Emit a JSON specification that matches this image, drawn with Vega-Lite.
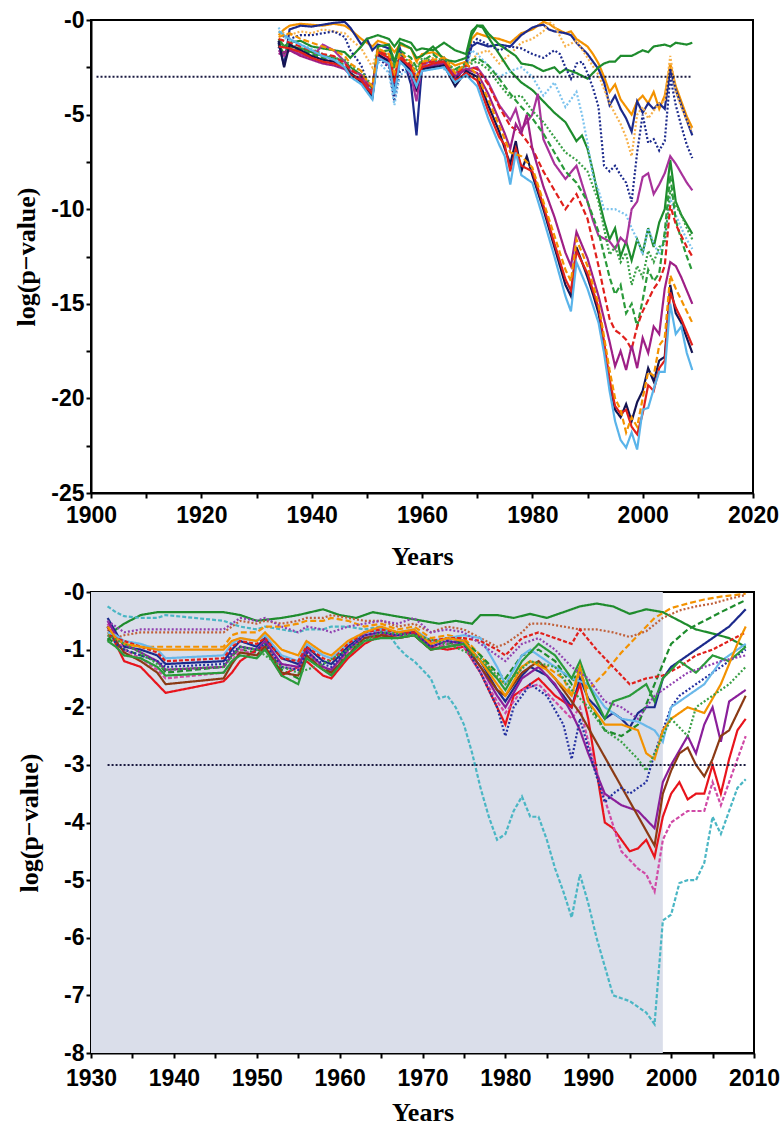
{
"$schema":"https://vega.github.io/schema/vega-lite/v6.json",
"padding":{"left":12,"top":8,"right":20,"bottom":0},
"background":"white",
"config":{
"view":{"stroke":"#000","strokeWidth":2},
"axis":{"grid":false,"domainColor":"#000","domainWidth":2,"tickColor":"#000","tickWidth":2,"tickSize":5,"labelFont":"Liberation Sans","labelFontWeight":"bold","labelFontSize":23,"labelColor":"#000","titleFont":"Liberation Serif","titleFontWeight":"bold","titleFontSize":26,"titleColor":"#000","labelOverlap":false,"labelFlush":false,"labelPadding":2,"format":"d"},
"axisX":{"labelPadding":6}
},
"spacing":10,
"resolve":{"scale":{"x":"independent","y":"independent","color":"independent","strokeDash":"independent"}},
"datasets":{
"top":[
{"s":"T1","x":1934,"y":-0.8},{"s":"T1","x":1935,"y":-0.5},{"s":"T1","x":1936,"y":-0.3},{"s":"T1","x":1938,"y":-0.2},{"s":"T1","x":1940,"y":-0.25},{"s":"T1","x":1942,"y":-0.3},{"s":"T1","x":1944,"y":-0.2},{"s":"T1","x":1946,"y":-0.3},{"s":"T1","x":1947,"y":-0.5},{"s":"T1","x":1949,"y":-1.0},{"s":"T1","x":1950,"y":-1.2},{"s":"T1","x":1951,"y":-1.4},{"s":"T1","x":1952,"y":-1.1},{"s":"T1","x":1954,"y":-1.3},{"s":"T1","x":1955,"y":-1.7},{"s":"T1","x":1956,"y":-1.3},{"s":"T1","x":1958,"y":-1.5},{"s":"T1","x":1959,"y":-2.2},{"s":"T1","x":1960,"y":-1.8},{"s":"T1","x":1962,"y":-1.7},{"s":"T1","x":1964,"y":-2.0},{"s":"T1","x":1966,"y":-2.4},{"s":"T1","x":1968,"y":-2.2},{"s":"T1","x":1969,"y":-1.0},{"s":"T1","x":1970,"y":-0.7},{"s":"T1","x":1972,"y":-0.9},{"s":"T1","x":1974,"y":-1.0},{"s":"T1","x":1976,"y":-1.2},{"s":"T1","x":1978,"y":-0.7},{"s":"T1","x":1980,"y":-0.5},{"s":"T1","x":1981,"y":-0.3},{"s":"T1","x":1982,"y":-0.1},{"s":"T1","x":1983,"y":-0.2},{"s":"T1","x":1984,"y":-0.4},{"s":"T1","x":1986,"y":-0.7},{"s":"T1","x":1987,"y":-0.6},{"s":"T1","x":1988,"y":-1.0},{"s":"T1","x":1990,"y":-1.4},{"s":"T1","x":1991,"y":-1.8},{"s":"T1","x":1992,"y":-2.3},{"s":"T1","x":1993,"y":-3.0},{"s":"T1","x":1994,"y":-3.8},{"s":"T1","x":1995,"y":-3.4},{"s":"T1","x":1996,"y":-4.2},{"s":"T1","x":1997,"y":-4.6},{"s":"T1","x":1998,"y":-5.0},{"s":"T1","x":1999,"y":-4.3},{"s":"T1","x":2000,"y":-4.0},{"s":"T1","x":2001,"y":-4.4},{"s":"T1","x":2002,"y":-3.8},{"s":"T1","x":2003,"y":-4.7},{"s":"T1","x":2004,"y":-4.0},{"s":"T1","x":2005,"y":-2.3},{"s":"T1","x":2006,"y":-3.5},{"s":"T1","x":2007,"y":-4.3},{"s":"T1","x":2008,"y":-5.1},{"s":"T1","x":2009,"y":-5.7},
{"s":"T2","x":1934,"y":-1.2},{"s":"T2","x":1935,"y":-2.4},{"s":"T2","x":1936,"y":-0.5},{"s":"T2","x":1938,"y":-0.3},{"s":"T2","x":1940,"y":-0.35},{"s":"T2","x":1942,"y":-0.25},{"s":"T2","x":1944,"y":-0.15},{"s":"T2","x":1946,"y":-0.1},{"s":"T2","x":1947,"y":-0.4},{"s":"T2","x":1949,"y":-1.3},{"s":"T2","x":1950,"y":-1.0},{"s":"T2","x":1951,"y":-1.6},{"s":"T2","x":1952,"y":-1.3},{"s":"T2","x":1954,"y":-1.5},{"s":"T2","x":1955,"y":-2.3},{"s":"T2","x":1956,"y":-1.5},{"s":"T2","x":1958,"y":-3.4},{"s":"T2","x":1959,"y":-6.1},{"s":"T2","x":1960,"y":-2.5},{"s":"T2","x":1962,"y":-2.4},{"s":"T2","x":1964,"y":-2.0},{"s":"T2","x":1966,"y":-3.2},{"s":"T2","x":1968,"y":-2.4},{"s":"T2","x":1969,"y":-1.4},{"s":"T2","x":1970,"y":-1.2},{"s":"T2","x":1972,"y":-1.4},{"s":"T2","x":1974,"y":-1.3},{"s":"T2","x":1976,"y":-1.4},{"s":"T2","x":1978,"y":-0.8},{"s":"T2","x":1980,"y":-0.4},{"s":"T2","x":1981,"y":-0.3},{"s":"T2","x":1982,"y":-0.25},{"s":"T2","x":1983,"y":-0.5},{"s":"T2","x":1984,"y":-0.6},{"s":"T2","x":1986,"y":-0.7},{"s":"T2","x":1987,"y":-0.8},{"s":"T2","x":1988,"y":-1.2},{"s":"T2","x":1990,"y":-1.8},{"s":"T2","x":1991,"y":-2.2},{"s":"T2","x":1992,"y":-2.6},{"s":"T2","x":1993,"y":-3.3},{"s":"T2","x":1994,"y":-4.5},{"s":"T2","x":1995,"y":-4.0},{"s":"T2","x":1996,"y":-4.7},{"s":"T2","x":1997,"y":-5.2},{"s":"T2","x":1998,"y":-5.9},{"s":"T2","x":1999,"y":-4.3},{"s":"T2","x":2000,"y":-4.9},{"s":"T2","x":2001,"y":-4.4},{"s":"T2","x":2002,"y":-4.7},{"s":"T2","x":2003,"y":-4.4},{"s":"T2","x":2004,"y":-4.7},{"s":"T2","x":2005,"y":-2.6},{"s":"T2","x":2006,"y":-3.7},{"s":"T2","x":2007,"y":-4.5},{"s":"T2","x":2008,"y":-5.3},{"s":"T2","x":2009,"y":-6.1},
{"s":"T3","x":1934,"y":-0.6},{"s":"T3","x":1936,"y":-0.8},{"s":"T3","x":1938,"y":-0.6},{"s":"T3","x":1940,"y":-0.7},{"s":"T3","x":1942,"y":-0.5},{"s":"T3","x":1944,"y":-0.6},{"s":"T3","x":1946,"y":-0.7},{"s":"T3","x":1947,"y":-1.0},{"s":"T3","x":1949,"y":-1.5},{"s":"T3","x":1950,"y":-2.0},{"s":"T3","x":1951,"y":-2.5},{"s":"T3","x":1952,"y":-1.5},{"s":"T3","x":1954,"y":-1.8},{"s":"T3","x":1956,"y":-2.0},{"s":"T3","x":1958,"y":-2.4},{"s":"T3","x":1960,"y":-2.2},{"s":"T3","x":1962,"y":-2.0},{"s":"T3","x":1964,"y":-2.3},{"s":"T3","x":1966,"y":-2.7},{"s":"T3","x":1968,"y":-2.5},{"s":"T3","x":1970,"y":-1.8},{"s":"T3","x":1972,"y":-1.6},{"s":"T3","x":1974,"y":-2.3},{"s":"T3","x":1976,"y":-1.8},{"s":"T3","x":1978,"y":-1.2},{"s":"T3","x":1980,"y":-1.0},{"s":"T3","x":1982,"y":-0.6},{"s":"T3","x":1983,"y":-0.1},{"s":"T3","x":1984,"y":-0.3},{"s":"T3","x":1986,"y":-1.4},{"s":"T3","x":1988,"y":-1.1},{"s":"T3","x":1990,"y":-2.0},{"s":"T3","x":1992,"y":-2.9},{"s":"T3","x":1994,"y":-4.4},{"s":"T3","x":1996,"y":-5.5},{"s":"T3","x":1997,"y":-6.2},{"s":"T3","x":1998,"y":-7.2},{"s":"T3","x":1999,"y":-5.0},{"s":"T3","x":2000,"y":-4.6},{"s":"T3","x":2001,"y":-5.2},{"s":"T3","x":2002,"y":-4.8},{"s":"T3","x":2003,"y":-4.4},{"s":"T3","x":2004,"y":-4.3},{"s":"T3","x":2005,"y":-1.9},{"s":"T3","x":2006,"y":-3.8},{"s":"T3","x":2007,"y":-4.6},{"s":"T3","x":2008,"y":-5.3},{"s":"T3","x":2009,"y":-5.9},
{"s":"T4","x":1934,"y":-1.0},{"s":"T4","x":1935,"y":-1.4},{"s":"T4","x":1936,"y":-1.2},{"s":"T4","x":1938,"y":-1.1},{"s":"T4","x":1940,"y":-1.4},{"s":"T4","x":1942,"y":-1.5},{"s":"T4","x":1944,"y":-1.6},{"s":"T4","x":1946,"y":-1.7},{"s":"T4","x":1947,"y":-2.0},{"s":"T4","x":1949,"y":-1.4},{"s":"T4","x":1950,"y":-1.0},{"s":"T4","x":1951,"y":-0.9},{"s":"T4","x":1952,"y":-0.8},{"s":"T4","x":1954,"y":-1.0},{"s":"T4","x":1955,"y":-1.4},{"s":"T4","x":1956,"y":-1.0},{"s":"T4","x":1958,"y":-1.2},{"s":"T4","x":1959,"y":-1.6},{"s":"T4","x":1960,"y":-1.5},{"s":"T4","x":1962,"y":-1.6},{"s":"T4","x":1964,"y":-1.2},{"s":"T4","x":1966,"y":-1.6},{"s":"T4","x":1968,"y":-1.8},{"s":"T4","x":1969,"y":-0.6},{"s":"T4","x":1970,"y":-0.3},{"s":"T4","x":1971,"y":-0.3},{"s":"T4","x":1972,"y":-0.7},{"s":"T4","x":1973,"y":-1.0},{"s":"T4","x":1974,"y":-1.3},{"s":"T4","x":1976,"y":-1.7},{"s":"T4","x":1977,"y":-1.9},{"s":"T4","x":1978,"y":-2.3},{"s":"T4","x":1980,"y":-2.4},{"s":"T4","x":1982,"y":-2.7},{"s":"T4","x":1984,"y":-2.5},{"s":"T4","x":1985,"y":-2.8},{"s":"T4","x":1986,"y":-2.6},{"s":"T4","x":1988,"y":-2.8},{"s":"T4","x":1990,"y":-3.1},{"s":"T4","x":1991,"y":-2.8},{"s":"T4","x":1992,"y":-2.5},{"s":"T4","x":1993,"y":-2.3},{"s":"T4","x":1994,"y":-2.2},{"s":"T4","x":1995,"y":-2.2},{"s":"T4","x":1996,"y":-1.9},{"s":"T4","x":1998,"y":-1.9},{"s":"T4","x":2000,"y":-1.6},{"s":"T4","x":2001,"y":-1.7},{"s":"T4","x":2002,"y":-1.4},{"s":"T4","x":2004,"y":-1.3},{"s":"T4","x":2005,"y":-1.4},{"s":"T4","x":2006,"y":-1.2},{"s":"T4","x":2008,"y":-1.3},{"s":"T4","x":2009,"y":-1.2},
{"s":"T5","x":1934,"y":-1.3},{"s":"T5","x":1935,"y":-1.8},{"s":"T5","x":1936,"y":-1.4},{"s":"T5","x":1938,"y":-1.5},{"s":"T5","x":1940,"y":-1.7},{"s":"T5","x":1942,"y":-1.9},{"s":"T5","x":1944,"y":-2.0},{"s":"T5","x":1946,"y":-2.2},{"s":"T5","x":1947,"y":-2.5},{"s":"T5","x":1949,"y":-2.9},{"s":"T5","x":1950,"y":-3.3},{"s":"T5","x":1951,"y":-3.6},{"s":"T5","x":1952,"y":-1.4},{"s":"T5","x":1954,"y":-1.3},{"s":"T5","x":1955,"y":-2.2},{"s":"T5","x":1956,"y":-1.2},{"s":"T5","x":1958,"y":-1.5},{"s":"T5","x":1959,"y":-2.0},{"s":"T5","x":1960,"y":-1.9},{"s":"T5","x":1962,"y":-1.4},{"s":"T5","x":1964,"y":-2.1},{"s":"T5","x":1966,"y":-2.2},{"s":"T5","x":1968,"y":-2.0},{"s":"T5","x":1969,"y":-0.8},{"s":"T5","x":1970,"y":-0.3},{"s":"T5","x":1971,"y":-0.4},{"s":"T5","x":1972,"y":-0.9},{"s":"T5","x":1974,"y":-1.8},{"s":"T5","x":1976,"y":-2.7},{"s":"T5","x":1978,"y":-3.3},{"s":"T5","x":1980,"y":-3.7},{"s":"T5","x":1982,"y":-4.3},{"s":"T5","x":1984,"y":-4.9},{"s":"T5","x":1986,"y":-5.4},{"s":"T5","x":1988,"y":-6.4},{"s":"T5","x":1989,"y":-6.1},{"s":"T5","x":1990,"y":-6.8},{"s":"T5","x":1991,"y":-8.0},{"s":"T5","x":1992,"y":-9.4},{"s":"T5","x":1993,"y":-10.6},{"s":"T5","x":1994,"y":-11.6},{"s":"T5","x":1995,"y":-11.0},{"s":"T5","x":1996,"y":-12.5},{"s":"T5","x":1997,"y":-11.7},{"s":"T5","x":1998,"y":-12.7},{"s":"T5","x":1999,"y":-11.6},{"s":"T5","x":2000,"y":-12.3},{"s":"T5","x":2001,"y":-11.0},{"s":"T5","x":2002,"y":-12.0},{"s":"T5","x":2003,"y":-10.7},{"s":"T5","x":2004,"y":-10.0},{"s":"T5","x":2005,"y":-7.4},{"s":"T5","x":2006,"y":-9.6},{"s":"T5","x":2007,"y":-10.3},{"s":"T5","x":2008,"y":-10.8},{"s":"T5","x":2009,"y":-11.3},
{"s":"T6","x":1934,"y":-1.5},{"s":"T6","x":1935,"y":-0.8},{"s":"T6","x":1936,"y":-1.0},{"s":"T6","x":1938,"y":-0.8},{"s":"T6","x":1940,"y":-0.8},{"s":"T6","x":1942,"y":-0.7},{"s":"T6","x":1944,"y":-0.6},{"s":"T6","x":1946,"y":-0.9},{"s":"T6","x":1947,"y":-1.6},{"s":"T6","x":1949,"y":-2.4},{"s":"T6","x":1950,"y":-3.2},{"s":"T6","x":1951,"y":-4.0},{"s":"T6","x":1952,"y":-2.0},{"s":"T6","x":1954,"y":-2.5},{"s":"T6","x":1955,"y":-4.3},{"s":"T6","x":1956,"y":-2.7},{"s":"T6","x":1958,"y":-2.5},{"s":"T6","x":1959,"y":-3.0},{"s":"T6","x":1960,"y":-2.2},{"s":"T6","x":1962,"y":-2.5},{"s":"T6","x":1964,"y":-2.3},{"s":"T6","x":1966,"y":-3.1},{"s":"T6","x":1968,"y":-2.2},{"s":"T6","x":1969,"y":-1.3},{"s":"T6","x":1970,"y":-1.0},{"s":"T6","x":1972,"y":-1.3},{"s":"T6","x":1974,"y":-1.6},{"s":"T6","x":1976,"y":-1.4},{"s":"T6","x":1978,"y":-1.5},{"s":"T6","x":1980,"y":-1.8},{"s":"T6","x":1982,"y":-2.0},{"s":"T6","x":1984,"y":-1.6},{"s":"T6","x":1985,"y":-1.8},{"s":"T6","x":1986,"y":-2.5},{"s":"T6","x":1987,"y":-3.1},{"s":"T6","x":1988,"y":-2.3},{"s":"T6","x":1989,"y":-2.2},{"s":"T6","x":1990,"y":-2.8},{"s":"T6","x":1991,"y":-3.6},{"s":"T6","x":1992,"y":-4.6},{"s":"T6","x":1993,"y":-7.7},{"s":"T6","x":1994,"y":-8.0},{"s":"T6","x":1995,"y":-7.7},{"s":"T6","x":1996,"y":-8.2},{"s":"T6","x":1997,"y":-8.6},{"s":"T6","x":1998,"y":-9.6},{"s":"T6","x":1999,"y":-7.0},{"s":"T6","x":2000,"y":-5.0},{"s":"T6","x":2001,"y":-6.5},{"s":"T6","x":2002,"y":-6.3},{"s":"T6","x":2003,"y":-6.9},{"s":"T6","x":2004,"y":-6.4},{"s":"T6","x":2005,"y":-3.0},{"s":"T6","x":2006,"y":-4.5},{"s":"T6","x":2007,"y":-5.6},{"s":"T6","x":2008,"y":-6.6},{"s":"T6","x":2009,"y":-7.3},
{"s":"T7","x":1934,"y":-0.4},{"s":"T7","x":1935,"y":-0.9},{"s":"T7","x":1936,"y":-1.1},{"s":"T7","x":1938,"y":-1.3},{"s":"T7","x":1940,"y":-1.5},{"s":"T7","x":1942,"y":-1.8},{"s":"T7","x":1944,"y":-2.0},{"s":"T7","x":1946,"y":-2.3},{"s":"T7","x":1947,"y":-2.6},{"s":"T7","x":1949,"y":-3.0},{"s":"T7","x":1950,"y":-3.4},{"s":"T7","x":1951,"y":-3.9},{"s":"T7","x":1952,"y":-2.2},{"s":"T7","x":1954,"y":-2.8},{"s":"T7","x":1955,"y":-4.5},{"s":"T7","x":1956,"y":-2.9},{"s":"T7","x":1958,"y":-2.6},{"s":"T7","x":1959,"y":-3.0},{"s":"T7","x":1960,"y":-2.4},{"s":"T7","x":1962,"y":-2.3},{"s":"T7","x":1964,"y":-2.6},{"s":"T7","x":1966,"y":-3.0},{"s":"T7","x":1968,"y":-2.5},{"s":"T7","x":1969,"y":-1.6},{"s":"T7","x":1970,"y":-1.8},{"s":"T7","x":1972,"y":-2.4},{"s":"T7","x":1974,"y":-3.0},{"s":"T7","x":1976,"y":-2.7},{"s":"T7","x":1978,"y":-2.5},{"s":"T7","x":1980,"y":-3.0},{"s":"T7","x":1982,"y":-4.0},{"s":"T7","x":1984,"y":-3.3},{"s":"T7","x":1986,"y":-4.6},{"s":"T7","x":1988,"y":-3.8},{"s":"T7","x":1989,"y":-5.0},{"s":"T7","x":1990,"y":-6.5},{"s":"T7","x":1991,"y":-8.3},{"s":"T7","x":1992,"y":-9.0},{"s":"T7","x":1993,"y":-10.0},{"s":"T7","x":1995,"y":-10.0},{"s":"T7","x":1997,"y":-10.3},{"s":"T7","x":1998,"y":-11.0},{"s":"T7","x":1999,"y":-11.6},{"s":"T7","x":2000,"y":-12.4},{"s":"T7","x":2001,"y":-11.0},{"s":"T7","x":2002,"y":-11.8},{"s":"T7","x":2003,"y":-12.4},{"s":"T7","x":2004,"y":-11.5},{"s":"T7","x":2005,"y":-9.4},{"s":"T7","x":2006,"y":-10.3},{"s":"T7","x":2007,"y":-11.0},{"s":"T7","x":2008,"y":-11.6},{"s":"T7","x":2009,"y":-12.1},
{"s":"T8","x":1934,"y":-1.6},{"s":"T8","x":1935,"y":-1.9},{"s":"T8","x":1936,"y":-1.6},{"s":"T8","x":1938,"y":-1.8},{"s":"T8","x":1940,"y":-2.0},{"s":"T8","x":1942,"y":-1.3},{"s":"T8","x":1944,"y":-1.6},{"s":"T8","x":1946,"y":-2.2},{"s":"T8","x":1947,"y":-2.7},{"s":"T8","x":1949,"y":-2.9},{"s":"T8","x":1950,"y":-3.3},{"s":"T8","x":1951,"y":-3.5},{"s":"T8","x":1952,"y":-1.8},{"s":"T8","x":1954,"y":-2.4},{"s":"T8","x":1955,"y":-3.0},{"s":"T8","x":1956,"y":-2.0},{"s":"T8","x":1958,"y":-2.9},{"s":"T8","x":1959,"y":-4.3},{"s":"T8","x":1960,"y":-2.4},{"s":"T8","x":1962,"y":-2.1},{"s":"T8","x":1964,"y":-2.4},{"s":"T8","x":1966,"y":-2.8},{"s":"T8","x":1968,"y":-2.6},{"s":"T8","x":1970,"y":-2.5},{"s":"T8","x":1972,"y":-3.3},{"s":"T8","x":1974,"y":-4.5},{"s":"T8","x":1976,"y":-5.3},{"s":"T8","x":1977,"y":-4.7},{"s":"T8","x":1978,"y":-5.8},{"s":"T8","x":1980,"y":-5.0},{"s":"T8","x":1981,"y":-3.9},{"s":"T8","x":1982,"y":-6.3},{"s":"T8","x":1984,"y":-7.6},{"s":"T8","x":1986,"y":-8.4},{"s":"T8","x":1988,"y":-7.7},{"s":"T8","x":1990,"y":-9.6},{"s":"T8","x":1991,"y":-10.6},{"s":"T8","x":1992,"y":-11.4},{"s":"T8","x":1994,"y":-11.7},{"s":"T8","x":1995,"y":-12.1},{"s":"T8","x":1996,"y":-11.5},{"s":"T8","x":1997,"y":-11.8},{"s":"T8","x":1998,"y":-10.0},{"s":"T8","x":1999,"y":-9.6},{"s":"T8","x":2000,"y":-8.3},{"s":"T8","x":2001,"y":-8.1},{"s":"T8","x":2002,"y":-9.2},{"s":"T8","x":2003,"y":-8.7},{"s":"T8","x":2004,"y":-8.1},{"s":"T8","x":2005,"y":-7.2},{"s":"T8","x":2006,"y":-7.6},{"s":"T8","x":2007,"y":-8.1},{"s":"T8","x":2008,"y":-8.6},{"s":"T8","x":2009,"y":-9.0},
{"s":"T9","x":1934,"y":-1.2},{"s":"T9","x":1936,"y":-1.5},{"s":"T9","x":1938,"y":-1.6},{"s":"T9","x":1940,"y":-1.8},{"s":"T9","x":1942,"y":-2.0},{"s":"T9","x":1944,"y":-2.1},{"s":"T9","x":1946,"y":-2.4},{"s":"T9","x":1947,"y":-2.8},{"s":"T9","x":1949,"y":-3.2},{"s":"T9","x":1950,"y":-3.6},{"s":"T9","x":1951,"y":-4.0},{"s":"T9","x":1952,"y":-1.7},{"s":"T9","x":1954,"y":-1.6},{"s":"T9","x":1955,"y":-2.6},{"s":"T9","x":1956,"y":-1.6},{"s":"T9","x":1958,"y":-2.0},{"s":"T9","x":1959,"y":-2.5},{"s":"T9","x":1960,"y":-2.2},{"s":"T9","x":1962,"y":-1.8},{"s":"T9","x":1964,"y":-2.3},{"s":"T9","x":1966,"y":-2.6},{"s":"T9","x":1968,"y":-2.3},{"s":"T9","x":1970,"y":-2.0},{"s":"T9","x":1972,"y":-2.4},{"s":"T9","x":1974,"y":-3.1},{"s":"T9","x":1976,"y":-3.9},{"s":"T9","x":1978,"y":-4.6},{"s":"T9","x":1980,"y":-5.2},{"s":"T9","x":1982,"y":-6.0},{"s":"T9","x":1984,"y":-7.0},{"s":"T9","x":1986,"y":-8.0},{"s":"T9","x":1988,"y":-8.6},{"s":"T9","x":1990,"y":-9.6},{"s":"T9","x":1992,"y":-11.2},{"s":"T9","x":1994,"y":-13.6},{"s":"T9","x":1995,"y":-14.5},{"s":"T9","x":1996,"y":-14.0},{"s":"T9","x":1997,"y":-15.5},{"s":"T9","x":1998,"y":-15.0},{"s":"T9","x":1999,"y":-16.2},{"s":"T9","x":2000,"y":-14.8},{"s":"T9","x":2001,"y":-13.2},{"s":"T9","x":2002,"y":-13.8},{"s":"T9","x":2003,"y":-13.4},{"s":"T9","x":2004,"y":-11.2},{"s":"T9","x":2005,"y":-8.2},{"s":"T9","x":2006,"y":-10.6},{"s":"T9","x":2007,"y":-11.6},{"s":"T9","x":2008,"y":-12.5},{"s":"T9","x":2009,"y":-13.3},
{"s":"T10","x":1934,"y":-1.4},{"s":"T10","x":1936,"y":-1.3},{"s":"T10","x":1938,"y":-1.5},{"s":"T10","x":1940,"y":-1.6},{"s":"T10","x":1942,"y":-1.8},{"s":"T10","x":1944,"y":-2.0},{"s":"T10","x":1946,"y":-2.1},{"s":"T10","x":1947,"y":-2.4},{"s":"T10","x":1949,"y":-2.7},{"s":"T10","x":1950,"y":-3.1},{"s":"T10","x":1951,"y":-3.5},{"s":"T10","x":1952,"y":-1.6},{"s":"T10","x":1954,"y":-1.9},{"s":"T10","x":1955,"y":-2.4},{"s":"T10","x":1956,"y":-1.8},{"s":"T10","x":1958,"y":-2.3},{"s":"T10","x":1959,"y":-2.7},{"s":"T10","x":1960,"y":-2.0},{"s":"T10","x":1962,"y":-2.2},{"s":"T10","x":1964,"y":-2.0},{"s":"T10","x":1966,"y":-2.7},{"s":"T10","x":1968,"y":-2.4},{"s":"T10","x":1970,"y":-2.2},{"s":"T10","x":1972,"y":-2.6},{"s":"T10","x":1974,"y":-3.4},{"s":"T10","x":1976,"y":-4.1},{"s":"T10","x":1978,"y":-4.0},{"s":"T10","x":1980,"y":-4.8},{"s":"T10","x":1982,"y":-5.4},{"s":"T10","x":1984,"y":-6.2},{"s":"T10","x":1986,"y":-7.0},{"s":"T10","x":1988,"y":-7.4},{"s":"T10","x":1990,"y":-8.0},{"s":"T10","x":1992,"y":-9.6},{"s":"T10","x":1994,"y":-12.4},{"s":"T10","x":1995,"y":-12.0},{"s":"T10","x":1996,"y":-12.8},{"s":"T10","x":1997,"y":-12.3},{"s":"T10","x":1998,"y":-14.0},{"s":"T10","x":1999,"y":-13.0},{"s":"T10","x":2000,"y":-13.6},{"s":"T10","x":2001,"y":-12.2},{"s":"T10","x":2002,"y":-12.8},{"s":"T10","x":2003,"y":-12.0},{"s":"T10","x":2004,"y":-11.8},{"s":"T10","x":2005,"y":-9.0},{"s":"T10","x":2006,"y":-9.8},{"s":"T10","x":2007,"y":-10.3},{"s":"T10","x":2008,"y":-11.0},{"s":"T10","x":2009,"y":-11.6},
{"s":"T11","x":1934,"y":-1.0},{"s":"T11","x":1936,"y":-1.2},{"s":"T11","x":1938,"y":-1.4},{"s":"T11","x":1940,"y":-1.6},{"s":"T11","x":1942,"y":-1.8},{"s":"T11","x":1944,"y":-1.9},{"s":"T11","x":1946,"y":-2.3},{"s":"T11","x":1947,"y":-2.6},{"s":"T11","x":1949,"y":-3.0},{"s":"T11","x":1950,"y":-3.4},{"s":"T11","x":1951,"y":-3.7},{"s":"T11","x":1952,"y":-1.6},{"s":"T11","x":1954,"y":-1.9},{"s":"T11","x":1955,"y":-3.0},{"s":"T11","x":1956,"y":-1.9},{"s":"T11","x":1958,"y":-2.4},{"s":"T11","x":1959,"y":-3.2},{"s":"T11","x":1960,"y":-2.3},{"s":"T11","x":1962,"y":-2.2},{"s":"T11","x":1964,"y":-2.2},{"s":"T11","x":1966,"y":-2.9},{"s":"T11","x":1968,"y":-2.4},{"s":"T11","x":1970,"y":-2.6},{"s":"T11","x":1972,"y":-3.4},{"s":"T11","x":1974,"y":-4.6},{"s":"T11","x":1976,"y":-5.6},{"s":"T11","x":1978,"y":-6.0},{"s":"T11","x":1980,"y":-6.8},{"s":"T11","x":1982,"y":-8.0},{"s":"T11","x":1984,"y":-9.0},{"s":"T11","x":1986,"y":-10.0},{"s":"T11","x":1988,"y":-9.2},{"s":"T11","x":1990,"y":-10.5},{"s":"T11","x":1992,"y":-13.0},{"s":"T11","x":1994,"y":-15.8},{"s":"T11","x":1995,"y":-16.4},{"s":"T11","x":1996,"y":-16.6},{"s":"T11","x":1997,"y":-16.9},{"s":"T11","x":1998,"y":-17.4},{"s":"T11","x":1999,"y":-16.2},{"s":"T11","x":2000,"y":-15.4},{"s":"T11","x":2001,"y":-14.8},{"s":"T11","x":2002,"y":-14.2},{"s":"T11","x":2003,"y":-13.8},{"s":"T11","x":2004,"y":-13.0},{"s":"T11","x":2005,"y":-9.8},{"s":"T11","x":2006,"y":-10.8},{"s":"T11","x":2007,"y":-11.4},{"s":"T11","x":2008,"y":-12.0},{"s":"T11","x":2009,"y":-12.5},
{"s":"T12","x":1934,"y":-1.8},{"s":"T12","x":1936,"y":-1.6},{"s":"T12","x":1938,"y":-1.9},{"s":"T12","x":1940,"y":-2.1},{"s":"T12","x":1942,"y":-2.3},{"s":"T12","x":1944,"y":-2.4},{"s":"T12","x":1946,"y":-2.6},{"s":"T12","x":1947,"y":-2.9},{"s":"T12","x":1949,"y":-3.1},{"s":"T12","x":1950,"y":-3.5},{"s":"T12","x":1951,"y":-3.9},{"s":"T12","x":1952,"y":-1.9},{"s":"T12","x":1954,"y":-2.1},{"s":"T12","x":1955,"y":-3.4},{"s":"T12","x":1956,"y":-2.0},{"s":"T12","x":1958,"y":-2.6},{"s":"T12","x":1959,"y":-3.8},{"s":"T12","x":1960,"y":-2.5},{"s":"T12","x":1962,"y":-2.4},{"s":"T12","x":1964,"y":-2.3},{"s":"T12","x":1966,"y":-3.0},{"s":"T12","x":1968,"y":-2.6},{"s":"T12","x":1970,"y":-2.8},{"s":"T12","x":1972,"y":-3.9},{"s":"T12","x":1974,"y":-5.3},{"s":"T12","x":1975,"y":-6.0},{"s":"T12","x":1976,"y":-6.8},{"s":"T12","x":1977,"y":-5.5},{"s":"T12","x":1978,"y":-6.0},{"s":"T12","x":1979,"y":-5.0},{"s":"T12","x":1980,"y":-6.8},{"s":"T12","x":1982,"y":-8.8},{"s":"T12","x":1984,"y":-10.4},{"s":"T12","x":1986,"y":-12.3},{"s":"T12","x":1987,"y":-13.0},{"s":"T12","x":1988,"y":-11.2},{"s":"T12","x":1990,"y":-12.6},{"s":"T12","x":1992,"y":-14.6},{"s":"T12","x":1994,"y":-17.0},{"s":"T12","x":1995,"y":-18.3},{"s":"T12","x":1996,"y":-17.5},{"s":"T12","x":1997,"y":-18.5},{"s":"T12","x":1998,"y":-17.2},{"s":"T12","x":1999,"y":-18.4},{"s":"T12","x":2000,"y":-16.8},{"s":"T12","x":2001,"y":-17.6},{"s":"T12","x":2002,"y":-16.2},{"s":"T12","x":2003,"y":-16.6},{"s":"T12","x":2004,"y":-14.2},{"s":"T12","x":2005,"y":-12.8},{"s":"T12","x":2006,"y":-13.0},{"s":"T12","x":2007,"y":-13.6},{"s":"T12","x":2008,"y":-14.3},{"s":"T12","x":2009,"y":-15.0},
{"s":"T13","x":1934,"y":-1.1},{"s":"T13","x":1935,"y":-2.5},{"s":"T13","x":1936,"y":-1.3},{"s":"T13","x":1938,"y":-1.6},{"s":"T13","x":1940,"y":-1.9},{"s":"T13","x":1942,"y":-2.1},{"s":"T13","x":1944,"y":-2.2},{"s":"T13","x":1946,"y":-2.5},{"s":"T13","x":1947,"y":-2.8},{"s":"T13","x":1949,"y":-3.3},{"s":"T13","x":1950,"y":-3.7},{"s":"T13","x":1951,"y":-4.1},{"s":"T13","x":1952,"y":-1.8},{"s":"T13","x":1954,"y":-2.2},{"s":"T13","x":1955,"y":-3.8},{"s":"T13","x":1956,"y":-2.1},{"s":"T13","x":1958,"y":-2.7},{"s":"T13","x":1959,"y":-3.6},{"s":"T13","x":1960,"y":-2.6},{"s":"T13","x":1962,"y":-2.5},{"s":"T13","x":1964,"y":-2.4},{"s":"T13","x":1966,"y":-3.5},{"s":"T13","x":1968,"y":-2.7},{"s":"T13","x":1970,"y":-3.0},{"s":"T13","x":1972,"y":-4.5},{"s":"T13","x":1974,"y":-5.9},{"s":"T13","x":1975,"y":-6.8},{"s":"T13","x":1976,"y":-7.6},{"s":"T13","x":1977,"y":-6.4},{"s":"T13","x":1978,"y":-8.0},{"s":"T13","x":1979,"y":-7.2},{"s":"T13","x":1980,"y":-8.2},{"s":"T13","x":1982,"y":-10.0},{"s":"T13","x":1984,"y":-12.0},{"s":"T13","x":1986,"y":-14.0},{"s":"T13","x":1987,"y":-14.6},{"s":"T13","x":1988,"y":-12.0},{"s":"T13","x":1989,"y":-12.8},{"s":"T13","x":1990,"y":-13.6},{"s":"T13","x":1991,"y":-14.5},{"s":"T13","x":1992,"y":-15.5},{"s":"T13","x":1993,"y":-17.2},{"s":"T13","x":1994,"y":-19.2},{"s":"T13","x":1995,"y":-20.6},{"s":"T13","x":1996,"y":-21.0},{"s":"T13","x":1997,"y":-20.3},{"s":"T13","x":1998,"y":-21.2},{"s":"T13","x":1999,"y":-20.2},{"s":"T13","x":2000,"y":-19.6},{"s":"T13","x":2001,"y":-18.4},{"s":"T13","x":2002,"y":-19.1},{"s":"T13","x":2003,"y":-18.0},{"s":"T13","x":2004,"y":-17.8},{"s":"T13","x":2005,"y":-14.0},{"s":"T13","x":2006,"y":-15.5},{"s":"T13","x":2007,"y":-16.0},{"s":"T13","x":2008,"y":-16.8},{"s":"T13","x":2009,"y":-17.6},
{"s":"T14","x":1934,"y":-1.4},{"s":"T14","x":1936,"y":-1.5},{"s":"T14","x":1938,"y":-1.7},{"s":"T14","x":1940,"y":-2.0},{"s":"T14","x":1942,"y":-2.2},{"s":"T14","x":1944,"y":-2.3},{"s":"T14","x":1946,"y":-2.5},{"s":"T14","x":1947,"y":-2.9},{"s":"T14","x":1949,"y":-3.2},{"s":"T14","x":1950,"y":-3.6},{"s":"T14","x":1951,"y":-3.9},{"s":"T14","x":1952,"y":-1.7},{"s":"T14","x":1954,"y":-2.0},{"s":"T14","x":1955,"y":-3.3},{"s":"T14","x":1956,"y":-2.0},{"s":"T14","x":1958,"y":-2.5},{"s":"T14","x":1959,"y":-3.4},{"s":"T14","x":1960,"y":-2.5},{"s":"T14","x":1962,"y":-2.3},{"s":"T14","x":1964,"y":-2.2},{"s":"T14","x":1966,"y":-3.2},{"s":"T14","x":1968,"y":-2.8},{"s":"T14","x":1970,"y":-3.2},{"s":"T14","x":1972,"y":-4.8},{"s":"T14","x":1974,"y":-6.2},{"s":"T14","x":1975,"y":-6.6},{"s":"T14","x":1976,"y":-8.0},{"s":"T14","x":1977,"y":-6.8},{"s":"T14","x":1978,"y":-7.7},{"s":"T14","x":1980,"y":-8.0},{"s":"T14","x":1982,"y":-9.8},{"s":"T14","x":1984,"y":-11.8},{"s":"T14","x":1986,"y":-13.7},{"s":"T14","x":1987,"y":-14.3},{"s":"T14","x":1988,"y":-12.2},{"s":"T14","x":1990,"y":-13.4},{"s":"T14","x":1992,"y":-15.2},{"s":"T14","x":1993,"y":-17.0},{"s":"T14","x":1994,"y":-19.0},{"s":"T14","x":1995,"y":-20.4},{"s":"T14","x":1996,"y":-20.8},{"s":"T14","x":1997,"y":-20.6},{"s":"T14","x":1998,"y":-21.5},{"s":"T14","x":1999,"y":-21.9},{"s":"T14","x":2000,"y":-20.8},{"s":"T14","x":2001,"y":-19.3},{"s":"T14","x":2002,"y":-19.6},{"s":"T14","x":2003,"y":-18.4},{"s":"T14","x":2004,"y":-18.0},{"s":"T14","x":2005,"y":-14.4},{"s":"T14","x":2006,"y":-15.2},{"s":"T14","x":2007,"y":-15.8},{"s":"T14","x":2008,"y":-16.5},{"s":"T14","x":2009,"y":-17.2},
{"s":"T15","x":1934,"y":-0.6},{"s":"T15","x":1936,"y":-1.0},{"s":"T15","x":1938,"y":-1.3},{"s":"T15","x":1940,"y":-1.6},{"s":"T15","x":1942,"y":-1.9},{"s":"T15","x":1944,"y":-2.1},{"s":"T15","x":1946,"y":-2.5},{"s":"T15","x":1947,"y":-3.0},{"s":"T15","x":1949,"y":-3.4},{"s":"T15","x":1950,"y":-3.8},{"s":"T15","x":1951,"y":-4.2},{"s":"T15","x":1952,"y":-2.0},{"s":"T15","x":1954,"y":-2.3},{"s":"T15","x":1955,"y":-3.9},{"s":"T15","x":1956,"y":-2.2},{"s":"T15","x":1958,"y":-2.8},{"s":"T15","x":1959,"y":-3.5},{"s":"T15","x":1960,"y":-2.7},{"s":"T15","x":1962,"y":-2.6},{"s":"T15","x":1964,"y":-2.5},{"s":"T15","x":1966,"y":-3.3},{"s":"T15","x":1968,"y":-2.9},{"s":"T15","x":1970,"y":-3.5},{"s":"T15","x":1972,"y":-5.2},{"s":"T15","x":1974,"y":-6.6},{"s":"T15","x":1975,"y":-7.2},{"s":"T15","x":1976,"y":-8.7},{"s":"T15","x":1977,"y":-7.0},{"s":"T15","x":1978,"y":-8.2},{"s":"T15","x":1980,"y":-8.6},{"s":"T15","x":1982,"y":-10.5},{"s":"T15","x":1984,"y":-12.5},{"s":"T15","x":1986,"y":-14.6},{"s":"T15","x":1987,"y":-15.4},{"s":"T15","x":1988,"y":-12.8},{"s":"T15","x":1990,"y":-14.2},{"s":"T15","x":1992,"y":-16.0},{"s":"T15","x":1993,"y":-17.6},{"s":"T15","x":1994,"y":-19.6},{"s":"T15","x":1995,"y":-21.2},{"s":"T15","x":1996,"y":-22.2},{"s":"T15","x":1997,"y":-22.6},{"s":"T15","x":1998,"y":-21.8},{"s":"T15","x":1999,"y":-22.7},{"s":"T15","x":2000,"y":-20.6},{"s":"T15","x":2001,"y":-20.5},{"s":"T15","x":2002,"y":-19.5},{"s":"T15","x":2003,"y":-18.6},{"s":"T15","x":2004,"y":-18.6},{"s":"T15","x":2005,"y":-15.0},{"s":"T15","x":2006,"y":-16.6},{"s":"T15","x":2007,"y":-16.2},{"s":"T15","x":2008,"y":-17.6},{"s":"T15","x":2009,"y":-18.5},
{"s":"T16","x":1934,"y":-0.9},{"s":"T16","x":1936,"y":-0.7},{"s":"T16","x":1938,"y":-1.0},{"s":"T16","x":1940,"y":-1.2},{"s":"T16","x":1942,"y":-1.4},{"s":"T16","x":1944,"y":-1.6},{"s":"T16","x":1946,"y":-1.9},{"s":"T16","x":1947,"y":-2.3},{"s":"T16","x":1949,"y":-2.7},{"s":"T16","x":1950,"y":-3.2},{"s":"T16","x":1951,"y":-3.5},{"s":"T16","x":1952,"y":-1.5},{"s":"T16","x":1954,"y":-1.8},{"s":"T16","x":1955,"y":-2.8},{"s":"T16","x":1956,"y":-1.7},{"s":"T16","x":1958,"y":-2.2},{"s":"T16","x":1959,"y":-3.0},{"s":"T16","x":1960,"y":-2.2},{"s":"T16","x":1962,"y":-2.1},{"s":"T16","x":1964,"y":-2.0},{"s":"T16","x":1966,"y":-2.8},{"s":"T16","x":1968,"y":-2.3},{"s":"T16","x":1970,"y":-2.9},{"s":"T16","x":1972,"y":-4.2},{"s":"T16","x":1974,"y":-5.6},{"s":"T16","x":1976,"y":-7.0},{"s":"T16","x":1978,"y":-7.2},{"s":"T16","x":1980,"y":-7.8},{"s":"T16","x":1982,"y":-9.6},{"s":"T16","x":1984,"y":-11.4},{"s":"T16","x":1986,"y":-13.2},{"s":"T16","x":1987,"y":-13.8},{"s":"T16","x":1988,"y":-11.6},{"s":"T16","x":1990,"y":-13.0},{"s":"T16","x":1992,"y":-15.0},{"s":"T16","x":1994,"y":-18.5},{"s":"T16","x":1995,"y":-20.0},{"s":"T16","x":1996,"y":-20.6},{"s":"T16","x":1997,"y":-21.8},{"s":"T16","x":1998,"y":-21.0},{"s":"T16","x":1999,"y":-21.5},{"s":"T16","x":2000,"y":-20.0},{"s":"T16","x":2001,"y":-18.6},{"s":"T16","x":2002,"y":-18.8},{"s":"T16","x":2003,"y":-17.2},{"s":"T16","x":2004,"y":-16.8},{"s":"T16","x":2005,"y":-13.5},{"s":"T16","x":2006,"y":-14.2},{"s":"T16","x":2007,"y":-14.8},{"s":"T16","x":2008,"y":-15.4},{"s":"T16","x":2009,"y":-16.0}
],
"bot":[
{"s":"B1","x":1932,"y":-0.85},{"s":"B1","x":1933,"y":-0.65},{"s":"B1","x":1934,"y":-0.55},{"s":"B1","x":1936,"y":-0.4},{"s":"B1","x":1938,"y":-0.35},{"s":"B1","x":1939,"y":-0.35},{"s":"B1","x":1946,"y":-0.35},{"s":"B1","x":1948,"y":-0.4},{"s":"B1","x":1950,"y":-0.5},{"s":"B1","x":1953,"y":-0.45},{"s":"B1","x":1955,"y":-0.4},{"s":"B1","x":1958,"y":-0.3},{"s":"B1","x":1960,"y":-0.4},{"s":"B1","x":1962,"y":-0.45},{"s":"B1","x":1964,"y":-0.35},{"s":"B1","x":1966,"y":-0.4},{"s":"B1","x":1968,"y":-0.45},{"s":"B1","x":1970,"y":-0.5},{"s":"B1","x":1972,"y":-0.55},{"s":"B1","x":1974,"y":-0.5},{"s":"B1","x":1976,"y":-0.55},{"s":"B1","x":1977,"y":-0.4},{"s":"B1","x":1979,"y":-0.4},{"s":"B1","x":1981,"y":-0.45},{"s":"B1","x":1983,"y":-0.38},{"s":"B1","x":1985,"y":-0.45},{"s":"B1","x":1987,"y":-0.35},{"s":"B1","x":1989,"y":-0.25},{"s":"B1","x":1991,"y":-0.2},{"s":"B1","x":1993,"y":-0.25},{"s":"B1","x":1995,"y":-0.38},{"s":"B1","x":1997,"y":-0.3},{"s":"B1","x":1999,"y":-0.35},{"s":"B1","x":2001,"y":-0.5},{"s":"B1","x":2003,"y":-0.65},{"s":"B1","x":2005,"y":-0.72},{"s":"B1","x":2007,"y":-0.8},{"s":"B1","x":2009,"y":-0.95},
{"s":"B2","x":1932,"y":-0.25},{"s":"B2","x":1933,"y":-0.35},{"s":"B2","x":1934,"y":-0.42},{"s":"B2","x":1936,"y":-0.45},{"s":"B2","x":1938,"y":-0.45},{"s":"B2","x":1939,"y":-0.4},{"s":"B2","x":1946,"y":-0.5},{"s":"B2","x":1947,"y":-0.55},{"s":"B2","x":1948,"y":-0.6},{"s":"B2","x":1950,"y":-0.65},{"s":"B2","x":1951,"y":-0.6},{"s":"B2","x":1953,"y":-0.65},{"s":"B2","x":1955,"y":-0.7},{"s":"B2","x":1956,"y":-0.65},{"s":"B2","x":1958,"y":-0.65},{"s":"B2","x":1959,"y":-0.6},{"s":"B2","x":1961,"y":-0.6},{"s":"B2","x":1963,"y":-0.65},{"s":"B2","x":1965,"y":-0.6},{"s":"B2","x":1966,"y":-0.75},{"s":"B2","x":1967,"y":-0.95},{"s":"B2","x":1968,"y":-1.1},{"s":"B2","x":1969,"y":-1.2},{"s":"B2","x":1970,"y":-1.35},{"s":"B2","x":1971,"y":-1.5},{"s":"B2","x":1972,"y":-1.85},{"s":"B2","x":1973,"y":-1.8},{"s":"B2","x":1974,"y":-2.0},{"s":"B2","x":1975,"y":-2.3},{"s":"B2","x":1976,"y":-2.8},{"s":"B2","x":1977,"y":-3.4},{"s":"B2","x":1978,"y":-3.9},{"s":"B2","x":1979,"y":-4.3},{"s":"B2","x":1980,"y":-4.2},{"s":"B2","x":1981,"y":-3.8},{"s":"B2","x":1982,"y":-3.55},{"s":"B2","x":1983,"y":-3.9},{"s":"B2","x":1984,"y":-3.9},{"s":"B2","x":1985,"y":-4.3},{"s":"B2","x":1986,"y":-4.8},{"s":"B2","x":1987,"y":-5.2},{"s":"B2","x":1988,"y":-5.65},{"s":"B2","x":1989,"y":-4.9},{"s":"B2","x":1990,"y":-5.4},{"s":"B2","x":1991,"y":-6.0},{"s":"B2","x":1992,"y":-6.5},{"s":"B2","x":1993,"y":-7.0},{"s":"B2","x":1994,"y":-7.05},{"s":"B2","x":1995,"y":-7.1},{"s":"B2","x":1996,"y":-7.2},{"s":"B2","x":1997,"y":-7.3},{"s":"B2","x":1998,"y":-7.5},{"s":"B2","x":1999,"y":-5.7},{"s":"B2","x":2000,"y":-5.6},{"s":"B2","x":2001,"y":-5.05},{"s":"B2","x":2002,"y":-5.0},{"s":"B2","x":2003,"y":-5.0},{"s":"B2","x":2004,"y":-4.7},{"s":"B2","x":2005,"y":-3.9},{"s":"B2","x":2006,"y":-4.2},{"s":"B2","x":2007,"y":-3.8},{"s":"B2","x":2008,"y":-3.4},{"s":"B2","x":2009,"y":-3.25},
{"s":"B3","x":1932,"y":-0.7},{"s":"B3","x":1933,"y":-0.85},{"s":"B3","x":1934,"y":-0.9},{"s":"B3","x":1936,"y":-0.95},{"s":"B3","x":1938,"y":-0.95},{"s":"B3","x":1939,"y":-0.95},{"s":"B3","x":1946,"y":-0.95},{"s":"B3","x":1947,"y":-0.75},{"s":"B3","x":1948,"y":-0.7},{"s":"B3","x":1950,"y":-0.7},{"s":"B3","x":1951,"y":-0.6},{"s":"B3","x":1953,"y":-0.6},{"s":"B3","x":1955,"y":-0.55},{"s":"B3","x":1956,"y":-0.5},{"s":"B3","x":1958,"y":-0.5},{"s":"B3","x":1959,"y":-0.45},{"s":"B3","x":1961,"y":-0.5},{"s":"B3","x":1963,"y":-0.6},{"s":"B3","x":1965,"y":-0.55},{"s":"B3","x":1967,"y":-0.65},{"s":"B3","x":1969,"y":-0.6},{"s":"B3","x":1971,"y":-0.8},{"s":"B3","x":1973,"y":-0.75},{"s":"B3","x":1975,"y":-0.8},{"s":"B3","x":1977,"y":-1.1},{"s":"B3","x":1979,"y":-1.5},{"s":"B3","x":1980,"y":-1.6},{"s":"B3","x":1982,"y":-1.3},{"s":"B3","x":1983,"y":-1.2},{"s":"B3","x":1985,"y":-1.3},{"s":"B3","x":1987,"y":-1.5},{"s":"B3","x":1988,"y":-1.8},{"s":"B3","x":1989,"y":-1.4},{"s":"B3","x":1990,"y":-1.7},{"s":"B3","x":1991,"y":-1.55},{"s":"B3","x":1992,"y":-1.4},{"s":"B3","x":1994,"y":-1.05},{"s":"B3","x":1996,"y":-0.75},{"s":"B3","x":1998,"y":-0.45},{"s":"B3","x":2000,"y":-0.28},{"s":"B3","x":2002,"y":-0.2},{"s":"B3","x":2004,"y":-0.13},{"s":"B3","x":2006,"y":-0.08},{"s":"B3","x":2009,"y":-0.03},
{"s":"B4","x":1932,"y":-0.65},{"s":"B4","x":1933,"y":-0.8},{"s":"B4","x":1934,"y":-0.75},{"s":"B4","x":1936,"y":-0.7},{"s":"B4","x":1938,"y":-0.7},{"s":"B4","x":1939,"y":-0.7},{"s":"B4","x":1946,"y":-0.7},{"s":"B4","x":1947,"y":-0.6},{"s":"B4","x":1948,"y":-0.5},{"s":"B4","x":1950,"y":-0.55},{"s":"B4","x":1951,"y":-0.5},{"s":"B4","x":1953,"y":-0.55},{"s":"B4","x":1955,"y":-0.5},{"s":"B4","x":1956,"y":-0.45},{"s":"B4","x":1958,"y":-0.45},{"s":"B4","x":1959,"y":-0.4},{"s":"B4","x":1961,"y":-0.45},{"s":"B4","x":1963,"y":-0.5},{"s":"B4","x":1965,"y":-0.5},{"s":"B4","x":1967,"y":-0.6},{"s":"B4","x":1969,"y":-0.55},{"s":"B4","x":1971,"y":-0.7},{"s":"B4","x":1973,"y":-0.6},{"s":"B4","x":1975,"y":-0.65},{"s":"B4","x":1977,"y":-0.8},{"s":"B4","x":1979,"y":-0.95},{"s":"B4","x":1980,"y":-0.9},{"s":"B4","x":1982,"y":-0.7},{"s":"B4","x":1983,"y":-0.55},{"s":"B4","x":1985,"y":-0.55},{"s":"B4","x":1987,"y":-0.6},{"s":"B4","x":1989,"y":-0.65},{"s":"B4","x":1991,"y":-0.65},{"s":"B4","x":1993,"y":-0.7},{"s":"B4","x":1995,"y":-0.78},{"s":"B4","x":1997,"y":-0.68},{"s":"B4","x":1999,"y":-0.45},{"s":"B4","x":2001,"y":-0.32},{"s":"B4","x":2003,"y":-0.25},{"s":"B4","x":2005,"y":-0.2},{"s":"B4","x":2007,"y":-0.12},{"s":"B4","x":2009,"y":-0.05},
{"s":"B5","x":1932,"y":-0.45},{"s":"B5","x":1933,"y":-0.7},{"s":"B5","x":1934,"y":-0.95},{"s":"B5","x":1936,"y":-1.0},{"s":"B5","x":1938,"y":-1.1},{"s":"B5","x":1939,"y":-1.25},{"s":"B5","x":1946,"y":-1.2},{"s":"B5","x":1947,"y":-1.0},{"s":"B5","x":1948,"y":-0.85},{"s":"B5","x":1950,"y":-0.95},{"s":"B5","x":1951,"y":-0.8},{"s":"B5","x":1953,"y":-1.15},{"s":"B5","x":1955,"y":-1.25},{"s":"B5","x":1956,"y":-0.95},{"s":"B5","x":1958,"y":-1.2},{"s":"B5","x":1959,"y":-1.25},{"s":"B5","x":1961,"y":-0.95},{"s":"B5","x":1963,"y":-0.7},{"s":"B5","x":1965,"y":-0.65},{"s":"B5","x":1967,"y":-0.7},{"s":"B5","x":1969,"y":-0.7},{"s":"B5","x":1971,"y":-0.9},{"s":"B5","x":1973,"y":-0.8},{"s":"B5","x":1975,"y":-0.85},{"s":"B5","x":1977,"y":-1.2},{"s":"B5","x":1979,"y":-1.7},{"s":"B5","x":1980,"y":-1.9},{"s":"B5","x":1982,"y":-1.45},{"s":"B5","x":1983,"y":-1.3},{"s":"B5","x":1985,"y":-1.45},{"s":"B5","x":1987,"y":-1.8},{"s":"B5","x":1988,"y":-2.0},{"s":"B5","x":1989,"y":-1.5},{"s":"B5","x":1990,"y":-1.85},{"s":"B5","x":1991,"y":-2.0},{"s":"B5","x":1992,"y":-2.2},{"s":"B5","x":1993,"y":-2.1},{"s":"B5","x":1994,"y":-2.2},{"s":"B5","x":1995,"y":-2.35},{"s":"B5","x":1996,"y":-2.1},{"s":"B5","x":1997,"y":-2.0},{"s":"B5","x":1998,"y":-2.0},{"s":"B5","x":1999,"y":-1.5},{"s":"B5","x":2000,"y":-1.3},{"s":"B5","x":2001,"y":-1.2},{"s":"B5","x":2003,"y":-1.0},{"s":"B5","x":2005,"y":-0.8},{"s":"B5","x":2007,"y":-0.6},{"s":"B5","x":2009,"y":-0.3},
{"s":"B6","x":1932,"y":-0.8},{"s":"B6","x":1933,"y":-0.9},{"s":"B6","x":1934,"y":-1.0},{"s":"B6","x":1936,"y":-1.1},{"s":"B6","x":1938,"y":-1.2},{"s":"B6","x":1939,"y":-1.4},{"s":"B6","x":1946,"y":-1.3},{"s":"B6","x":1947,"y":-1.1},{"s":"B6","x":1948,"y":-1.0},{"s":"B6","x":1950,"y":-1.05},{"s":"B6","x":1951,"y":-0.9},{"s":"B6","x":1953,"y":-1.35},{"s":"B6","x":1955,"y":-1.5},{"s":"B6","x":1956,"y":-1.1},{"s":"B6","x":1958,"y":-1.3},{"s":"B6","x":1959,"y":-1.4},{"s":"B6","x":1961,"y":-1.05},{"s":"B6","x":1963,"y":-0.8},{"s":"B6","x":1965,"y":-0.75},{"s":"B6","x":1967,"y":-0.8},{"s":"B6","x":1969,"y":-0.75},{"s":"B6","x":1971,"y":-1.0},{"s":"B6","x":1973,"y":-0.9},{"s":"B6","x":1975,"y":-0.85},{"s":"B6","x":1977,"y":-1.1},{"s":"B6","x":1979,"y":-1.4},{"s":"B6","x":1980,"y":-1.5},{"s":"B6","x":1982,"y":-1.1},{"s":"B6","x":1984,"y":-1.0},{"s":"B6","x":1986,"y":-1.2},{"s":"B6","x":1988,"y":-1.6},{"s":"B6","x":1989,"y":-1.3},{"s":"B6","x":1990,"y":-1.9},{"s":"B6","x":1992,"y":-2.4},{"s":"B6","x":1994,"y":-2.5},{"s":"B6","x":1996,"y":-2.3},{"s":"B6","x":1998,"y":-1.6},{"s":"B6","x":2000,"y":-0.9},{"s":"B6","x":2002,"y":-0.65},{"s":"B6","x":2004,"y":-0.5},{"s":"B6","x":2006,"y":-0.35},{"s":"B6","x":2009,"y":-0.14},
{"s":"B7","x":1932,"y":-0.6},{"s":"B7","x":1933,"y":-0.9},{"s":"B7","x":1934,"y":-1.2},{"s":"B7","x":1936,"y":-1.3},{"s":"B7","x":1938,"y":-1.6},{"s":"B7","x":1939,"y":-1.75},{"s":"B7","x":1946,"y":-1.55},{"s":"B7","x":1947,"y":-1.4},{"s":"B7","x":1948,"y":-1.2},{"s":"B7","x":1950,"y":-1.0},{"s":"B7","x":1951,"y":-0.95},{"s":"B7","x":1953,"y":-1.45},{"s":"B7","x":1955,"y":-1.3},{"s":"B7","x":1956,"y":-1.2},{"s":"B7","x":1958,"y":-1.45},{"s":"B7","x":1959,"y":-1.5},{"s":"B7","x":1961,"y":-1.15},{"s":"B7","x":1963,"y":-0.9},{"s":"B7","x":1965,"y":-0.75},{"s":"B7","x":1967,"y":-0.75},{"s":"B7","x":1969,"y":-0.7},{"s":"B7","x":1971,"y":-0.95},{"s":"B7","x":1973,"y":-1.0},{"s":"B7","x":1975,"y":-0.95},{"s":"B7","x":1977,"y":-1.4},{"s":"B7","x":1979,"y":-2.0},{"s":"B7","x":1980,"y":-2.3},{"s":"B7","x":1981,"y":-1.8},{"s":"B7","x":1983,"y":-1.6},{"s":"B7","x":1984,"y":-1.5},{"s":"B7","x":1986,"y":-1.8},{"s":"B7","x":1988,"y":-2.0},{"s":"B7","x":1989,"y":-1.6},{"s":"B7","x":1990,"y":-2.2},{"s":"B7","x":1991,"y":-3.1},{"s":"B7","x":1992,"y":-4.0},{"s":"B7","x":1993,"y":-4.1},{"s":"B7","x":1994,"y":-4.3},{"s":"B7","x":1995,"y":-4.5},{"s":"B7","x":1996,"y":-4.45},{"s":"B7","x":1997,"y":-4.3},{"s":"B7","x":1998,"y":-4.6},{"s":"B7","x":1999,"y":-3.9},{"s":"B7","x":2000,"y":-3.5},{"s":"B7","x":2001,"y":-3.3},{"s":"B7","x":2002,"y":-3.6},{"s":"B7","x":2003,"y":-3.5},{"s":"B7","x":2004,"y":-3.5},{"s":"B7","x":2005,"y":-3.0},{"s":"B7","x":2006,"y":-3.5},{"s":"B7","x":2007,"y":-2.9},{"s":"B7","x":2008,"y":-2.4},{"s":"B7","x":2009,"y":-2.2},
{"s":"B8","x":1932,"y":-0.55},{"s":"B8","x":1933,"y":-0.8},{"s":"B8","x":1934,"y":-1.0},{"s":"B8","x":1936,"y":-1.15},{"s":"B8","x":1938,"y":-1.35},{"s":"B8","x":1939,"y":-1.5},{"s":"B8","x":1946,"y":-1.4},{"s":"B8","x":1947,"y":-1.2},{"s":"B8","x":1948,"y":-1.0},{"s":"B8","x":1950,"y":-1.1},{"s":"B8","x":1951,"y":-0.95},{"s":"B8","x":1953,"y":-1.3},{"s":"B8","x":1955,"y":-1.35},{"s":"B8","x":1956,"y":-1.05},{"s":"B8","x":1958,"y":-1.3},{"s":"B8","x":1959,"y":-1.35},{"s":"B8","x":1961,"y":-1.05},{"s":"B8","x":1963,"y":-0.8},{"s":"B8","x":1965,"y":-0.7},{"s":"B8","x":1967,"y":-0.8},{"s":"B8","x":1969,"y":-0.75},{"s":"B8","x":1971,"y":-1.0},{"s":"B8","x":1973,"y":-0.9},{"s":"B8","x":1975,"y":-0.95},{"s":"B8","x":1977,"y":-1.4},{"s":"B8","x":1979,"y":-1.9},{"s":"B8","x":1980,"y":-2.1},{"s":"B8","x":1982,"y":-1.7},{"s":"B8","x":1984,"y":-1.6},{"s":"B8","x":1986,"y":-1.9},{"s":"B8","x":1988,"y":-2.2},{"s":"B8","x":1989,"y":-2.0},{"s":"B8","x":1990,"y":-2.6},{"s":"B8","x":1992,"y":-3.6},{"s":"B8","x":1994,"y":-4.5},{"s":"B8","x":1996,"y":-4.8},{"s":"B8","x":1997,"y":-4.9},{"s":"B8","x":1998,"y":-5.2},{"s":"B8","x":1999,"y":-4.3},{"s":"B8","x":2000,"y":-4.0},{"s":"B8","x":2002,"y":-3.8},{"s":"B8","x":2004,"y":-3.8},{"s":"B8","x":2005,"y":-3.3},{"s":"B8","x":2006,"y":-3.7},{"s":"B8","x":2007,"y":-3.3},{"s":"B8","x":2009,"y":-2.5},
{"s":"B9","x":1932,"y":-0.5},{"s":"B9","x":1933,"y":-0.75},{"s":"B9","x":1934,"y":-0.9},{"s":"B9","x":1936,"y":-1.05},{"s":"B9","x":1938,"y":-1.2},{"s":"B9","x":1939,"y":-1.35},{"s":"B9","x":1946,"y":-1.3},{"s":"B9","x":1947,"y":-1.1},{"s":"B9","x":1948,"y":-0.95},{"s":"B9","x":1950,"y":-1.0},{"s":"B9","x":1951,"y":-0.85},{"s":"B9","x":1953,"y":-1.25},{"s":"B9","x":1955,"y":-1.3},{"s":"B9","x":1956,"y":-1.0},{"s":"B9","x":1958,"y":-1.3},{"s":"B9","x":1959,"y":-1.35},{"s":"B9","x":1961,"y":-1.0},{"s":"B9","x":1963,"y":-0.75},{"s":"B9","x":1965,"y":-0.7},{"s":"B9","x":1967,"y":-0.75},{"s":"B9","x":1969,"y":-0.7},{"s":"B9","x":1971,"y":-0.95},{"s":"B9","x":1973,"y":-0.85},{"s":"B9","x":1975,"y":-0.9},{"s":"B9","x":1977,"y":-1.3},{"s":"B9","x":1979,"y":-1.8},{"s":"B9","x":1980,"y":-2.0},{"s":"B9","x":1982,"y":-1.5},{"s":"B9","x":1984,"y":-1.3},{"s":"B9","x":1986,"y":-1.6},{"s":"B9","x":1988,"y":-2.1},{"s":"B9","x":1989,"y":-2.4},{"s":"B9","x":1990,"y":-2.8},{"s":"B9","x":1992,"y":-3.5},{"s":"B9","x":1994,"y":-3.7},{"s":"B9","x":1996,"y":-3.8},{"s":"B9","x":1998,"y":-4.1},{"s":"B9","x":1999,"y":-3.3},{"s":"B9","x":2000,"y":-3.0},{"s":"B9","x":2002,"y":-2.5},{"s":"B9","x":2003,"y":-2.8},{"s":"B9","x":2004,"y":-2.3},{"s":"B9","x":2005,"y":-2.0},{"s":"B9","x":2006,"y":-2.6},{"s":"B9","x":2007,"y":-1.9},{"s":"B9","x":2009,"y":-1.7},
{"s":"B10","x":1932,"y":-0.6},{"s":"B10","x":1933,"y":-0.85},{"s":"B10","x":1934,"y":-1.05},{"s":"B10","x":1936,"y":-1.2},{"s":"B10","x":1938,"y":-1.4},{"s":"B10","x":1939,"y":-1.6},{"s":"B10","x":1946,"y":-1.5},{"s":"B10","x":1947,"y":-1.25},{"s":"B10","x":1948,"y":-1.05},{"s":"B10","x":1950,"y":-1.1},{"s":"B10","x":1951,"y":-0.95},{"s":"B10","x":1953,"y":-1.4},{"s":"B10","x":1955,"y":-1.45},{"s":"B10","x":1956,"y":-1.1},{"s":"B10","x":1958,"y":-1.35},{"s":"B10","x":1959,"y":-1.4},{"s":"B10","x":1961,"y":-1.1},{"s":"B10","x":1963,"y":-0.8},{"s":"B10","x":1965,"y":-0.75},{"s":"B10","x":1967,"y":-0.8},{"s":"B10","x":1969,"y":-0.75},{"s":"B10","x":1971,"y":-1.0},{"s":"B10","x":1973,"y":-0.95},{"s":"B10","x":1975,"y":-0.9},{"s":"B10","x":1977,"y":-1.3},{"s":"B10","x":1979,"y":-1.7},{"s":"B10","x":1980,"y":-1.8},{"s":"B10","x":1982,"y":-1.4},{"s":"B10","x":1984,"y":-1.2},{"s":"B10","x":1986,"y":-1.5},{"s":"B10","x":1988,"y":-1.9},{"s":"B10","x":1989,"y":-2.1},{"s":"B10","x":1998,"y":-4.4},{"s":"B10","x":1999,"y":-3.5},{"s":"B10","x":2000,"y":-3.1},{"s":"B10","x":2001,"y":-2.8},{"s":"B10","x":2002,"y":-2.7},{"s":"B10","x":2003,"y":-3.0},{"s":"B10","x":2004,"y":-3.2},{"s":"B10","x":2005,"y":-2.9},{"s":"B10","x":2006,"y":-2.5},{"s":"B10","x":2007,"y":-2.4},{"s":"B10","x":2009,"y":-1.8},
{"s":"B11","x":1932,"y":-0.6},{"s":"B11","x":1933,"y":-0.9},{"s":"B11","x":1934,"y":-1.0},{"s":"B11","x":1936,"y":-1.1},{"s":"B11","x":1938,"y":-1.2},{"s":"B11","x":1939,"y":-1.3},{"s":"B11","x":1946,"y":-1.25},{"s":"B11","x":1947,"y":-1.05},{"s":"B11","x":1948,"y":-0.95},{"s":"B11","x":1950,"y":-1.0},{"s":"B11","x":1951,"y":-0.9},{"s":"B11","x":1953,"y":-1.3},{"s":"B11","x":1955,"y":-1.35},{"s":"B11","x":1956,"y":-1.05},{"s":"B11","x":1958,"y":-1.25},{"s":"B11","x":1959,"y":-1.3},{"s":"B11","x":1961,"y":-1.0},{"s":"B11","x":1963,"y":-0.75},{"s":"B11","x":1965,"y":-0.7},{"s":"B11","x":1967,"y":-0.75},{"s":"B11","x":1969,"y":-0.7},{"s":"B11","x":1971,"y":-0.95},{"s":"B11","x":1973,"y":-0.85},{"s":"B11","x":1975,"y":-0.9},{"s":"B11","x":1977,"y":-1.4},{"s":"B11","x":1979,"y":-2.0},{"s":"B11","x":1980,"y":-2.5},{"s":"B11","x":1981,"y":-2.0},{"s":"B11","x":1983,"y":-1.6},{"s":"B11","x":1985,"y":-1.8},{"s":"B11","x":1987,"y":-2.3},{"s":"B11","x":1988,"y":-2.9},{"s":"B11","x":1989,"y":-2.2},{"s":"B11","x":1990,"y":-2.7},{"s":"B11","x":1991,"y":-3.2},{"s":"B11","x":1992,"y":-3.65},{"s":"B11","x":1993,"y":-3.5},{"s":"B11","x":1994,"y":-3.4},{"s":"B11","x":1995,"y":-3.5},{"s":"B11","x":1996,"y":-3.4},{"s":"B11","x":1997,"y":-3.3},{"s":"B11","x":1998,"y":-2.8},{"s":"B11","x":1999,"y":-2.4},{"s":"B11","x":2000,"y":-2.0},{"s":"B11","x":2001,"y":-1.8},{"s":"B11","x":2002,"y":-1.7},{"s":"B11","x":2004,"y":-1.5},{"s":"B11","x":2006,"y":-1.3},{"s":"B11","x":2008,"y":-1.1},{"s":"B11","x":2009,"y":-1.0},
{"s":"B12","x":1932,"y":-0.7},{"s":"B12","x":1933,"y":-0.75},{"s":"B12","x":1934,"y":-0.85},{"s":"B12","x":1936,"y":-0.9},{"s":"B12","x":1938,"y":-1.0},{"s":"B12","x":1939,"y":-1.15},{"s":"B12","x":1946,"y":-1.1},{"s":"B12","x":1947,"y":-0.9},{"s":"B12","x":1948,"y":-0.8},{"s":"B12","x":1950,"y":-0.85},{"s":"B12","x":1951,"y":-0.75},{"s":"B12","x":1953,"y":-1.1},{"s":"B12","x":1955,"y":-1.2},{"s":"B12","x":1956,"y":-0.9},{"s":"B12","x":1958,"y":-1.1},{"s":"B12","x":1959,"y":-1.15},{"s":"B12","x":1961,"y":-0.9},{"s":"B12","x":1963,"y":-0.7},{"s":"B12","x":1965,"y":-0.65},{"s":"B12","x":1967,"y":-0.7},{"s":"B12","x":1969,"y":-0.65},{"s":"B12","x":1971,"y":-0.85},{"s":"B12","x":1973,"y":-0.8},{"s":"B12","x":1975,"y":-0.75},{"s":"B12","x":1977,"y":-0.8},{"s":"B12","x":1979,"y":-1.3},{"s":"B12","x":1980,"y":-1.6},{"s":"B12","x":1982,"y":-1.1},{"s":"B12","x":1983,"y":-1.0},{"s":"B12","x":1985,"y":-1.2},{"s":"B12","x":1988,"y":-1.5},{"s":"B12","x":1990,"y":-1.6},{"s":"B12","x":1992,"y":-2.0},{"s":"B12","x":1994,"y":-2.2},{"s":"B12","x":1996,"y":-2.25},{"s":"B12","x":1998,"y":-2.4},{"s":"B12","x":1999,"y":-2.6},{"s":"B12","x":2000,"y":-2.0},{"s":"B12","x":2002,"y":-1.8},{"s":"B12","x":2004,"y":-1.6},{"s":"B12","x":2006,"y":-1.2},{"s":"B12","x":2009,"y":-0.9},
{"s":"B13","x":1932,"y":-0.75},{"s":"B13","x":1933,"y":-0.8},{"s":"B13","x":1934,"y":-0.85},{"s":"B13","x":1936,"y":-0.95},{"s":"B13","x":1938,"y":-1.05},{"s":"B13","x":1939,"y":-1.2},{"s":"B13","x":1946,"y":-1.15},{"s":"B13","x":1947,"y":-0.95},{"s":"B13","x":1948,"y":-0.85},{"s":"B13","x":1950,"y":-0.9},{"s":"B13","x":1951,"y":-0.8},{"s":"B13","x":1953,"y":-1.15},{"s":"B13","x":1955,"y":-1.2},{"s":"B13","x":1956,"y":-0.95},{"s":"B13","x":1958,"y":-1.15},{"s":"B13","x":1959,"y":-1.2},{"s":"B13","x":1961,"y":-0.9},{"s":"B13","x":1963,"y":-0.7},{"s":"B13","x":1965,"y":-0.65},{"s":"B13","x":1967,"y":-0.7},{"s":"B13","x":1969,"y":-0.7},{"s":"B13","x":1971,"y":-0.85},{"s":"B13","x":1973,"y":-0.8},{"s":"B13","x":1975,"y":-0.8},{"s":"B13","x":1977,"y":-0.85},{"s":"B13","x":1979,"y":-1.0},{"s":"B13","x":1980,"y":-1.1},{"s":"B13","x":1982,"y":-0.8},{"s":"B13","x":1984,"y":-0.7},{"s":"B13","x":1986,"y":-0.8},{"s":"B13","x":1988,"y":-0.9},{"s":"B13","x":1989,"y":-0.65},{"s":"B13","x":1991,"y":-1.0},{"s":"B13","x":1993,"y":-1.3},{"s":"B13","x":1995,"y":-1.6},{"s":"B13","x":1997,"y":-1.5},{"s":"B13","x":1999,"y":-1.45},{"s":"B13","x":2001,"y":-1.3},{"s":"B13","x":2003,"y":-1.1},{"s":"B13","x":2005,"y":-1.0},{"s":"B13","x":2007,"y":-0.85},{"s":"B13","x":2009,"y":-0.7},
{"s":"B14","x":1932,"y":-0.85},{"s":"B14","x":1933,"y":-0.95},{"s":"B14","x":1934,"y":-1.1},{"s":"B14","x":1936,"y":-1.15},{"s":"B14","x":1938,"y":-1.3},{"s":"B14","x":1939,"y":-1.45},{"s":"B14","x":1946,"y":-1.4},{"s":"B14","x":1947,"y":-1.2},{"s":"B14","x":1948,"y":-1.1},{"s":"B14","x":1950,"y":-1.15},{"s":"B14","x":1951,"y":-1.0},{"s":"B14","x":1953,"y":-1.45},{"s":"B14","x":1955,"y":-1.6},{"s":"B14","x":1956,"y":-1.15},{"s":"B14","x":1958,"y":-1.35},{"s":"B14","x":1959,"y":-1.45},{"s":"B14","x":1961,"y":-1.1},{"s":"B14","x":1963,"y":-0.85},{"s":"B14","x":1965,"y":-0.8},{"s":"B14","x":1967,"y":-0.8},{"s":"B14","x":1969,"y":-0.75},{"s":"B14","x":1971,"y":-1.0},{"s":"B14","x":1973,"y":-0.95},{"s":"B14","x":1975,"y":-0.9},{"s":"B14","x":1977,"y":-1.2},{"s":"B14","x":1979,"y":-1.5},{"s":"B14","x":1980,"y":-1.7},{"s":"B14","x":1982,"y":-1.2},{"s":"B14","x":1984,"y":-0.9},{"s":"B14","x":1986,"y":-1.1},{"s":"B14","x":1988,"y":-1.5},{"s":"B14","x":1989,"y":-1.2},{"s":"B14","x":1990,"y":-1.6},{"s":"B14","x":1992,"y":-2.2},{"s":"B14","x":1993,"y":-1.9},{"s":"B14","x":1995,"y":-1.8},{"s":"B14","x":1997,"y":-1.6},{"s":"B14","x":1998,"y":-1.9},{"s":"B14","x":1999,"y":-1.5},{"s":"B14","x":2001,"y":-1.2},{"s":"B14","x":2003,"y":-1.4},{"s":"B14","x":2005,"y":-1.1},{"s":"B14","x":2007,"y":-1.2},{"s":"B14","x":2009,"y":-0.95},
{"s":"B15","x":1932,"y":-0.6},{"s":"B15","x":1933,"y":-0.8},{"s":"B15","x":1934,"y":-0.9},{"s":"B15","x":1936,"y":-0.95},{"s":"B15","x":1938,"y":-1.0},{"s":"B15","x":1939,"y":-1.0},{"s":"B15","x":1946,"y":-1.0},{"s":"B15","x":1947,"y":-0.85},{"s":"B15","x":1948,"y":-0.8},{"s":"B15","x":1950,"y":-0.85},{"s":"B15","x":1951,"y":-0.7},{"s":"B15","x":1953,"y":-1.0},{"s":"B15","x":1955,"y":-1.1},{"s":"B15","x":1956,"y":-0.85},{"s":"B15","x":1958,"y":-1.05},{"s":"B15","x":1959,"y":-1.1},{"s":"B15","x":1961,"y":-0.85},{"s":"B15","x":1963,"y":-0.7},{"s":"B15","x":1965,"y":-0.6},{"s":"B15","x":1967,"y":-0.7},{"s":"B15","x":1969,"y":-0.65},{"s":"B15","x":1971,"y":-0.9},{"s":"B15","x":1973,"y":-0.8},{"s":"B15","x":1975,"y":-0.85},{"s":"B15","x":1977,"y":-1.2},{"s":"B15","x":1979,"y":-1.6},{"s":"B15","x":1980,"y":-1.8},{"s":"B15","x":1982,"y":-1.3},{"s":"B15","x":1983,"y":-1.2},{"s":"B15","x":1985,"y":-1.35},{"s":"B15","x":1988,"y":-1.8},{"s":"B15","x":1989,"y":-1.3},{"s":"B15","x":1990,"y":-1.9},{"s":"B15","x":1992,"y":-2.3},{"s":"B15","x":1994,"y":-2.3},{"s":"B15","x":1996,"y":-2.4},{"s":"B15","x":1997,"y":-2.8},{"s":"B15","x":1998,"y":-2.9},{"s":"B15","x":1999,"y":-2.4},{"s":"B15","x":2000,"y":-2.2},{"s":"B15","x":2002,"y":-2.0},{"s":"B15","x":2004,"y":-2.1},{"s":"B15","x":2006,"y":-1.6},{"s":"B15","x":2008,"y":-0.9},{"s":"B15","x":2009,"y":-0.6},
{"s":"B16","x":1932,"y":-0.5},{"s":"B16","x":1933,"y":-0.6},{"s":"B16","x":1934,"y":-0.7},{"s":"B16","x":1936,"y":-0.65},{"s":"B16","x":1938,"y":-0.65},{"s":"B16","x":1939,"y":-0.65},{"s":"B16","x":1946,"y":-0.65},{"s":"B16","x":1947,"y":-0.55},{"s":"B16","x":1948,"y":-0.45},{"s":"B16","x":1950,"y":-0.5},{"s":"B16","x":1951,"y":-0.45},{"s":"B16","x":1953,"y":-0.6},{"s":"B16","x":1955,"y":-0.7},{"s":"B16","x":1956,"y":-0.6},{"s":"B16","x":1958,"y":-0.65},{"s":"B16","x":1959,"y":-0.7},{"s":"B16","x":1961,"y":-0.6},{"s":"B16","x":1963,"y":-0.55},{"s":"B16","x":1965,"y":-0.5},{"s":"B16","x":1967,"y":-0.55},{"s":"B16","x":1969,"y":-0.45},{"s":"B16","x":1971,"y":-0.7},{"s":"B16","x":1973,"y":-0.65},{"s":"B16","x":1975,"y":-0.7},{"s":"B16","x":1977,"y":-0.9},{"s":"B16","x":1979,"y":-1.1},{"s":"B16","x":1980,"y":-1.2},{"s":"B16","x":1982,"y":-0.9},{"s":"B16","x":1984,"y":-0.8},{"s":"B16","x":1986,"y":-1.0},{"s":"B16","x":1988,"y":-1.3},{"s":"B16","x":1990,"y":-1.5},{"s":"B16","x":1992,"y":-1.9},{"s":"B16","x":1994,"y":-2.0},{"s":"B16","x":1996,"y":-2.2},{"s":"B16","x":1998,"y":-1.8},{"s":"B16","x":2000,"y":-1.6},{"s":"B16","x":2002,"y":-1.4},{"s":"B16","x":2004,"y":-1.3},{"s":"B16","x":2006,"y":-1.2},{"s":"B16","x":2009,"y":-1.1},
{"s":"B17","x":1932,"y":-0.75},{"s":"B17","x":1936,"y":-1.05},{"s":"B17","x":1939,"y":-1.35},{"s":"B17","x":1946,"y":-1.3},{"s":"B17","x":1948,"y":-0.95},{"s":"B17","x":1950,"y":-1.0},{"s":"B17","x":1953,"y":-1.3},{"s":"B17","x":1955,"y":-1.4},{"s":"B17","x":1958,"y":-1.25},{"s":"B17","x":1961,"y":-1.0},{"s":"B17","x":1965,"y":-0.7},{"s":"B17","x":1969,"y":-0.75},{"s":"B17","x":1973,"y":-0.9},{"s":"B17","x":1977,"y":-1.15},{"s":"B17","x":1980,"y":-1.6},{"s":"B17","x":1983,"y":-1.2},{"s":"B17","x":1986,"y":-1.3},{"s":"B17","x":1988,"y":-1.7},{"s":"B17","x":1990,"y":-2.0},{"s":"B17","x":1992,"y":-2.4},{"s":"B17","x":1994,"y":-2.6},{"s":"B17","x":1996,"y":-2.9},{"s":"B17","x":1997,"y":-3.1},{"s":"B17","x":1998,"y":-2.8},{"s":"B17","x":2000,"y":-2.2},{"s":"B17","x":2002,"y":-2.5},{"s":"B17","x":2003,"y":-2.0},{"s":"B17","x":2005,"y":-1.8},{"s":"B17","x":2007,"y":-1.6},{"s":"B17","x":2009,"y":-1.3}
]
},
"vconcat":[
{
"width":662,"height":473,
"layer":[
{"data":{"name":"top"},"mark":{"type":"line","strokeWidth":2.2},
"encoding":{
"x":{"field":"x","type":"quantitative","scale":{"domain":[1900,2020],"nice":false,"zero":false},"axis":{"title":"Years","titlePadding":16,"values":[1900,1905,1910,1915,1920,1925,1930,1935,1940,1945,1950,1955,1960,1965,1970,1975,1980,1985,1990,1995,2000,2005,2010,2015,2020],"labelExpr":"datum.value % 20 == 0 ? datum.label : ''"}},
"y":{"field":"y","type":"quantitative","scale":{"domain":[-25,0],"nice":false,"zero":false},"axis":{"title":"log(p−value)","titlePadding":11,"values":[0,-1.25,-2.5,-3.75,-5,-6.25,-7.5,-8.75,-10,-11.25,-12.5,-13.75,-15,-16.25,-17.5,-18.75,-20,-21.25,-22.5,-23.75,-25],"labelExpr":"datum.value % 5 == 0 ? '-' + format(abs(datum.value), 'd') : ''"}},
"color":{"field":"s","type":"nominal","legend":null,"scale":{"domain":["T1","T2","T3","T4","T5","T6","T7","T8","T9","T10","T11","T12","T13","T14","T15","T16"],"range":["#f39200","#1c2a8c","#f7b24d","#1e8c2d","#1e8c2d","#1c2a8c","#7cc3ee","#a8329b","#2a9a3a","#3aa046","#e0201c","#9e1f86","#141452","#e0201c","#5ab4ea","#f39200"]}},
"strokeDash":{"field":"s","type":"nominal","legend":null,"scale":{"domain":["T1","T2","T3","T4","T5","T6","T7","T8","T9","T10","T11","T12","T13","T14","T15","T16"],"range":[[1,0],[1,0],[2,2],[1,0],[1,0],[2,2],[2,2],[1,0],[6,3],[2,2],[6,3],[1,0],[1,0],[1,0],[1,0],[6,3]]}}
}},
{"data":{"values":[{"a":1901,"b":2009,"y":-3}]},"mark":{"type":"rule","color":"#1a1a40","strokeWidth":2,"strokeDash":[2,2]},
"encoding":{"x":{"field":"a","type":"quantitative"},"x2":{"field":"b"},"y":{"field":"y","type":"quantitative"}}}
]
},
{
"width":663,"height":461,
"layer":[
{"data":{"values":[{"a":1930,"b":1999,"y1":0,"y2":-8}]},"mark":{"type":"rect","color":"#dadeea"},
"encoding":{"x":{"field":"a","type":"quantitative","scale":{"domain":[1930,2010],"nice":false,"zero":false}},"x2":{"field":"b"},"y":{"field":"y1","type":"quantitative","scale":{"domain":[-8,0],"nice":false,"zero":false}},"y2":{"field":"y2"}}},
{"data":{"name":"bot"},"mark":{"type":"line","strokeWidth":2.2},
"encoding":{
"x":{"field":"x","type":"quantitative","axis":{"title":"Years","titlePadding":9,"labelPadding":9,"values":[1930,1935,1940,1945,1950,1955,1960,1965,1970,1975,1980,1985,1990,1995,2000,2005,2010],"labelExpr":"datum.value % 10 == 0 ? datum.label : ''"}},
"y":{"field":"y","type":"quantitative","axis":{"title":"log(p−value)","titlePadding":21,"values":[0,-0.5,-1,-1.5,-2,-2.5,-3,-3.5,-4,-4.5,-5,-5.5,-6,-6.5,-7,-7.5,-8],"labelExpr":"datum.value % 1 == 0 ? '-' + format(abs(datum.value), 'd') : ''"}},
"color":{"field":"s","type":"nominal","legend":null,"scale":{"domain":["B1","B2","B3","B4","B5","B6","B7","B8","B9","B10","B11","B12","B13","B14","B15","B16","B17"],"range":["#1e8c2d","#4ab6c4","#f39200","#c0603a","#1c2a8c","#1e8c2d","#e8141c","#d04aa6","#8a1f9a","#8b3a14","#2430a0","#6ab8ea","#e0201c","#2a9a3a","#f39200","#9040b0","#3aa046"]}},
"strokeDash":{"field":"s","type":"nominal","legend":null,"scale":{"domain":["B1","B2","B3","B4","B5","B6","B7","B8","B9","B10","B11","B12","B13","B14","B15","B16","B17"],"range":[[1,0],[4,2],[6,3],[2,2],[1,0],[6,3],[1,0],[4,2],[1,0],[1,0],[2,2],[1,0],[4,2],[1,0],[1,0],[2,2],[2,2]]}}
}},
{"data":{"values":[{"a":1932,"b":2009,"y":-3}]},"mark":{"type":"rule","color":"#1a1a40","strokeWidth":2,"strokeDash":[2,2]},
"encoding":{"x":{"field":"a","type":"quantitative"},"x2":{"field":"b"},"y":{"field":"y","type":"quantitative"}}}
]
}
]
}
